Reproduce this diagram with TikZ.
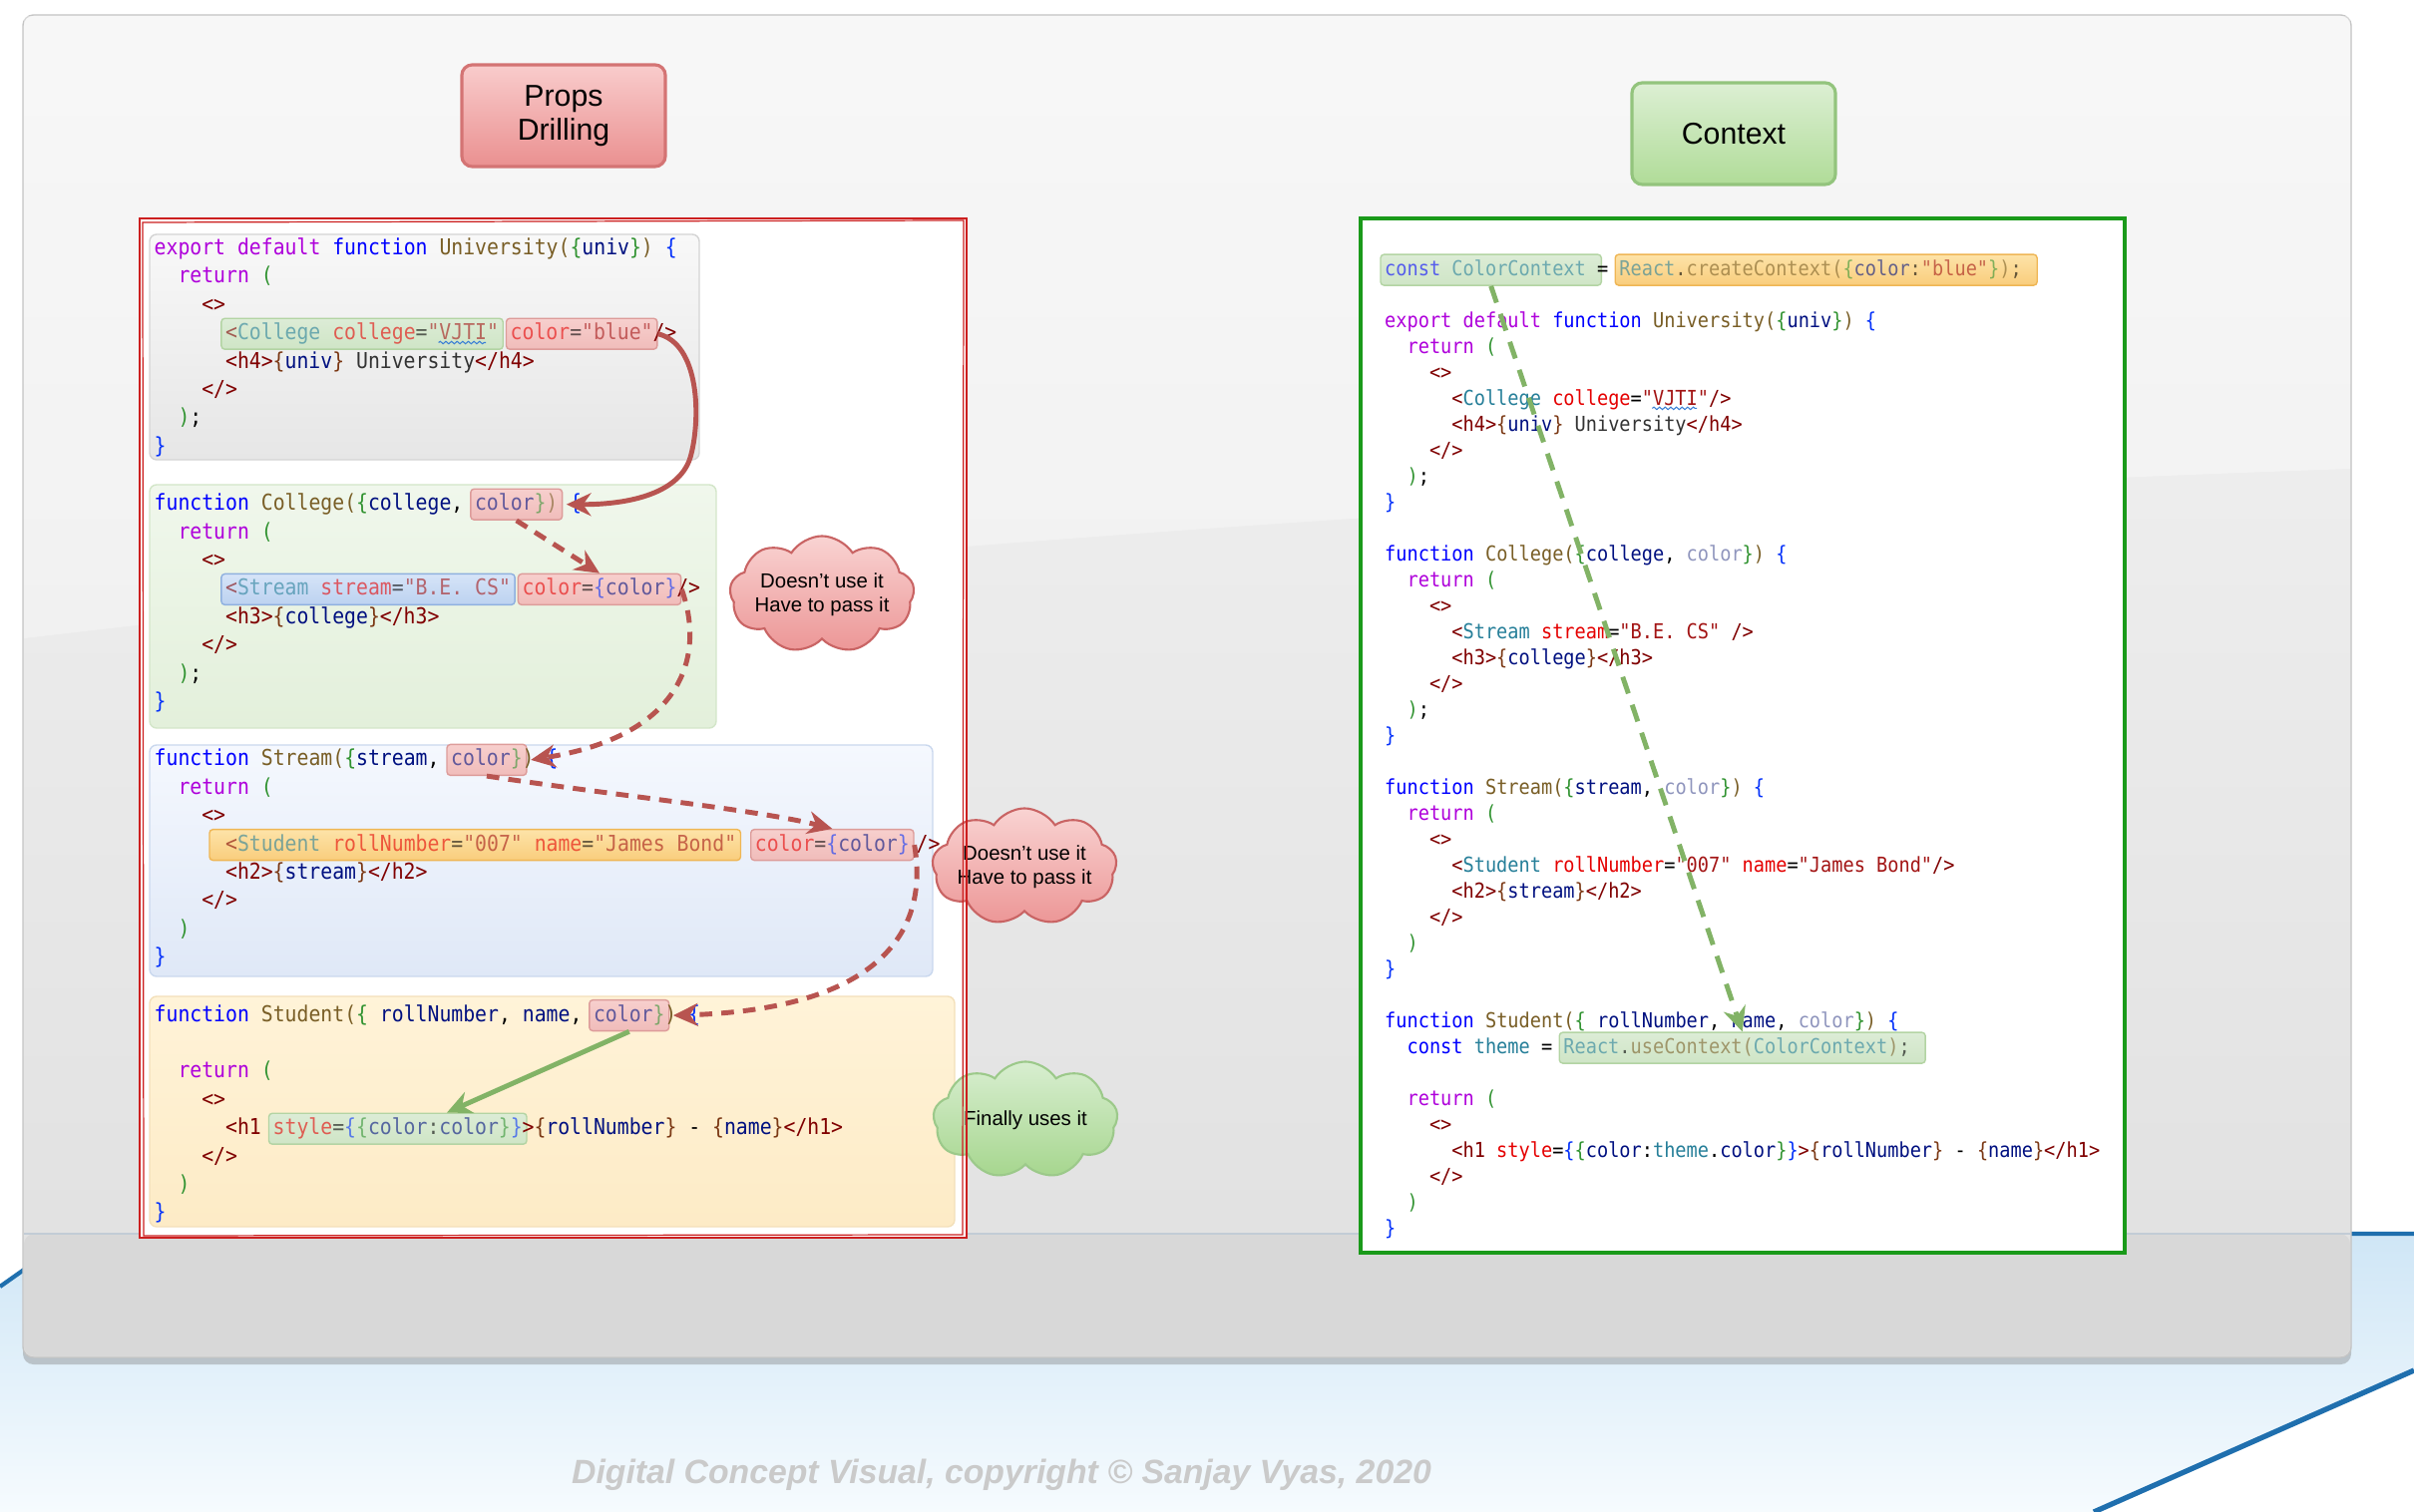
\documentclass[tikz,border=0pt]{standalone}
\usepackage{fontspec}
\usetikzlibrary{arrows.meta,shapes.symbols,shadows,decorations.pathmorphing}

\setsansfont{Liberation Sans}
\newfontfamily\codefont[FakeStretch=0.9,Ligatures=TeXOff]{DejaVu Sans Mono}
\newcommand\codeL{\codefont\fontsize{6.25pt}{7pt}\selectfont}
\newcommand\codeR{\codefont\fontsize{5.88pt}{7pt}\selectfont}

% editor colours
\definecolor{ckw}{HTML}{AF00DB}
\definecolor{cfn}{HTML}{0000FF}
\definecolor{cnm}{HTML}{795E26}
\definecolor{cvr}{HTML}{001080}
\definecolor{ctg}{HTML}{800000}
\definecolor{ccp}{HTML}{267F99}
\definecolor{cat}{HTML}{E50000}
\definecolor{cst}{HTML}{A31515}
\definecolor{cba}{HTML}{0431FA}
\definecolor{cbb}{HTML}{319331}
\definecolor{cbc}{HTML}{7B3814}
\definecolor{ctx}{HTML}{333333}
\definecolor{cdim}{HTML}{8F95BD}
\newcommand\cKw[1]{\textcolor{ckw}{#1}}
\newcommand\cFn[1]{\textcolor{cfn}{#1}}
\newcommand\cNm[1]{\textcolor{cnm}{#1}}
\newcommand\cVr[1]{\textcolor{cvr}{#1}}
\newcommand\cTg[1]{\textcolor{ctg}{#1}}
\newcommand\cCp[1]{\textcolor{ccp}{#1}}
\newcommand\cAt[1]{\textcolor{cat}{#1}}
\newcommand\cSt[1]{\textcolor{cst}{#1}}
\newcommand\cBa[1]{\textcolor{cba}{#1}}
\newcommand\cBb[1]{\textcolor{cbb}{#1}}
\newcommand\cBc[1]{\textcolor{cbc}{#1}}
\newcommand\cTx[1]{\textcolor{ctx}{#1}}
\newcommand\cDim[1]{\textcolor{cdim}{#1}}

% diagram colours
\definecolor{redline}{HTML}{B85450}
\definecolor{greenline}{HTML}{82B366}
\definecolor{stageblue}{HTML}{1F6FAE}
\definecolor{stagetop}{HTML}{CFE6F6}
\definecolor{stagebot}{HTML}{F6FBFE}
\definecolor{panelline}{HTML}{C4C4C4}
\definecolor{paneltop}{HTML}{F4F4F4}
\definecolor{panelbot}{HTML}{E0E0E0}
\definecolor{floorfill}{HTML}{D8D8D8}
\definecolor{floorline}{HTML}{C2CCD6}
\definecolor{grayline}{HTML}{D4D4D4}
\definecolor{graytop}{HTML}{F8F8F8}
\definecolor{graybot}{HTML}{E6E6E6}
\definecolor{mintline}{HTML}{D3E6C9}
\definecolor{minttop}{HTML}{F0F7EC}
\definecolor{mintbot}{HTML}{E3F0DB}
\definecolor{skyline}{HTML}{CAD8EE}
\definecolor{skytop}{HTML}{F5F8FE}
\definecolor{skybot}{HTML}{DFE8F7}
\definecolor{sandline}{HTML}{F3E0BA}
\definecolor{sandtop}{HTML}{FFF3D8}
\definecolor{sandbot}{HTML}{FDEBC6}
\definecolor{hlgtop}{HTML}{DCECD6}
\definecolor{hlgbot}{HTML}{CFE5C6}
\definecolor{hlgline}{HTML}{B3D4A3}
\definecolor{hlrtop}{HTML}{F7CFCD}
\definecolor{hlrbot}{HTML}{F0BCBA}
\definecolor{hlrline}{HTML}{DD9C9A}
\definecolor{hlbtop}{HTML}{D6E4F8}
\definecolor{hlbbot}{HTML}{BCD2F0}
\definecolor{hlbline}{HTML}{8FB0DF}
\definecolor{hlotop}{HTML}{FDE3A8}
\definecolor{hlobot}{HTML}{F9CD7C}
\definecolor{hloline}{HTML}{EFB655}
\definecolor{trline}{HTML}{D47474}
\definecolor{trtop}{HTML}{F9CCCC}
\definecolor{trbot}{HTML}{EA9090}
\definecolor{tgline}{HTML}{93C47D}
\definecolor{tgtop}{HTML}{DCEFD3}
\definecolor{tgbot}{HTML}{B0DC98}
\definecolor{crline}{HTML}{C96464}
\definecolor{crtop}{HTML}{F9D3D2}
\definecolor{crbot}{HTML}{EC9696}
\definecolor{cgline}{HTML}{9CC98A}
\definecolor{cgtop}{HTML}{D8EED0}
\definecolor{cgbot}{HTML}{A6D68E}
\definecolor{squigblue}{HTML}{3A7FD5}
\definecolor{propsframe}{HTML}{CC1F1F}
\definecolor{contextframe}{HTML}{1A9A1A}
\definecolor{wmgray}{HTML}{CACACA}

% code grid (pixels): left start, char width, right start, char width
\newcommand\xL{154}
\newcommand\cwL{11.9}
\newcommand\xR{1387.5}
\newcommand\cwR{11.2}

\tikzset{
  codeL/.style={font=\codeL, anchor=base west, inner sep=0pt},
  codeR/.style={font=\codeR, anchor=base west, inner sep=0pt},
  hl/.style={anchor=base west, inner xsep=1.2pt, inner ysep=1.3pt, text height=4.8pt, text depth=1.4pt,
    rounded corners=1pt, line width=0.4pt, text opacity=0.6},
  hlgreen/.style={hl, top color=hlgtop, bottom color=hlgbot, draw=hlgline},
  hlred/.style={hl, top color=hlrtop, bottom color=hlrbot, draw=hlrline},
  hlblue/.style={hl, top color=hlbtop, bottom color=hlbbot, draw=hlbline},
  hlorange/.style={hl, top color=hlotop, bottom color=hlobot, draw=hloline},
  titlebox/.style={font=\sffamily\fontsize{8.6pt}{9.8pt}\selectfont, align=center, minimum width=2.04cm,
    minimum height=1.02cm, rounded corners=3pt, line width=0.9pt},
  titlered/.style={titlebox, draw=trline, top color=trtop, bottom color=trbot},
  titlegreen/.style={titlebox, draw=tgline, top color=tgtop, bottom color=tgbot},
  cloudbox/.style={cloud, cloud puffs=9, cloud puff arc=115, cloud ignores aspect, minimum width=1.85cm,
    minimum height=1.17cm, inner sep=0pt, line width=0.6pt},
  cloudred/.style={cloudbox, draw=crline, top color=crtop, bottom color=crbot},
  cloudgreen/.style={cloudbox, draw=cgline, top color=cgtop, bottom color=cgbot},
  cloudtxt/.style={font=\sffamily\fontsize{5.8pt}{6.7pt}\selectfont, align=center, inner sep=0pt},
  flowR/.style={draw=redline, line width=1.4pt, -{Stealth[length=7pt,width=6.5pt]}},
  flowRd/.style={flowR, dash pattern=on 3.6pt off 2.6pt},
  flowG/.style={draw=greenline, line width=1.4pt, -{Stealth[length=7pt,width=6.5pt]}},
  flowGd/.style={flowG, dash pattern=on 5pt off 3.4pt},
  squig/.style={draw=squigblue, line width=0.3pt, decorate, decoration={snake, amplitude=0.35pt, segment length=1.6pt}}
}

\begin{document}
\begin{tikzpicture}[x=0.01cm, y=-0.01cm]
  \useasboundingbox (0,0) rectangle (2420,1516);

  % stage behind the panel
  \shade[top color=stagetop, bottom color=stagebot] (0,1290) -- (75,1237) -- (2420,1237) -- (2420,1374) -- (2099,1516) -- (0,1516) -- cycle;
  \draw[stageblue, line width=1.2pt] (0,1290) -- (75,1237) -- (2420,1237);
  \draw[stageblue, line width=1.5pt] (2099,1516) -- (2420,1374);

  % panel
  \path[rounded corners=3pt, draw=panelline, top color=paneltop, bottom color=panelbot,
    drop shadow={opacity=0.4, shadow xshift=0pt, shadow yshift=-2pt}] (23,15) rectangle (2357,1361);
  \fill[white, opacity=0.35] (24,16) -- (2356,16) -- (2356,470) .. controls (1500,500) and (700,560) .. (24,640) -- cycle;
  \fill[floorfill, rounded corners=3pt] (24,1237) rectangle (2356,1360);
  \draw[floorline, line width=0.6pt] (24,1237) -- (2356,1237);

  % titles
  \node[titlered] (props) at (565,116) {Props\\Drilling};
  \node[titlegreen] (context) at (1738,134) {Context};

  % frames
  \fill[white] (140,219) rectangle (969,1241);
  \fill[white] (1364,219) rectangle (2130,1256);

  % code blocks, left
  \path[rounded corners=2pt, draw=grayline, top color=graytop, bottom color=graybot] (150,235) rectangle (701,461);
  \path[rounded corners=2pt, draw=mintline, top color=minttop, bottom color=mintbot] (150,486) rectangle (718,730);
  \path[rounded corners=2pt, draw=skyline, top color=skytop, bottom color=skybot] (150,747) rectangle (935,979);
  \path[rounded corners=2pt, draw=sandline, top color=sandtop, bottom color=sandbot] (150,999) rectangle (957,1230);

  % University
  \node[codeL] (u0) at ({\xL},255.5) {\cKw{export} \cKw{default} \cFn{function} \cNm{University}\cNm{(}\cBb{\{}\cVr{univ}\cBb{\}}\cNm{)} \cBa{\{}};
  \node[codeL] (u1) at ({\xL+2*\cwL},283.9) {\cKw{return} \cBb{(}};
  \node[codeL] (u2) at ({\xL+4*\cwL},312.3) {\cTg{<>}};
  \node[hlgreen, font=\codeL] (uniC) at ({\xL+6*\cwL-4.2},340.7) {\cTg{<}\cCp{College} \cAt{college}=\cSt{"VJTI"}};
  \node[hlred, font=\codeL] (uniP) at ({\xL+30*\cwL-4.2},340.7) {\cAt{color}=\cSt{"blue"}};
  \node[codeL] (u3) at ({\xL+42*\cwL},340.7) {\cTg{/>}};
  \node[codeL] (u4) at ({\xL+6*\cwL},369.1) {\cTg{<h4>}\cBc{\{}\cVr{univ}\cBc{\}} \cTx{University}\cTg{</h4>}};
  \node[codeL] (u5) at ({\xL+4*\cwL},397.5) {\cTg{</>}};
  \node[codeL] (u6) at ({\xL+2*\cwL},425.9) {\cBb{)};};
  \node[codeL] (u7) at ({\xL},454.3) {\cBa{\}}};
  \draw[squig] ({\xL+24*\cwL},343.5) -- ({\xL+28*\cwL},343.5);

  % College
  \node[codeL] (c0) at ({\xL},511.7) {\cFn{function} \cNm{College}\cNm{(}\cBb{\{}\cVr{college},};
  \node[hlred, font=\codeL] (colP) at ({\xL+27*\cwL-4.2},511.7) {\cVr{color}\cBb{\}}\cNm{)}};
  \node[codeL] (c1) at ({\xL+35*\cwL},511.7) {\cBa{\{}};
  \node[codeL] (c2) at ({\xL+2*\cwL},540.1) {\cKw{return} \cBb{(}};
  \node[codeL] (c3) at ({\xL+4*\cwL},568.5) {\cTg{<>}};
  \node[hlblue, font=\codeL] (colS) at ({\xL+6*\cwL-4.2},596.9) {\cTg{<}\cCp{Stream} \cAt{stream}=\cSt{"B.E. CS"}};
  \node[hlred, font=\codeL] (colC) at ({\xL+31*\cwL-4.2},596.9) {\cAt{color}=\cBa{\{}\cVr{color}\cBa{\}}};
  \node[codeL] (c4) at ({\xL+44*\cwL},596.9) {\cTg{/>}};
  \node[codeL] (c5) at ({\xL+6*\cwL},625.3) {\cTg{<h3>}\cBc{\{}\cVr{college}\cBc{\}}\cTg{</h3>}};
  \node[codeL] (c6) at ({\xL+4*\cwL},653.7) {\cTg{</>}};
  \node[codeL] (c7) at ({\xL+2*\cwL},682.1) {\cBb{)};};
  \node[codeL] (c8) at ({\xL},710.5) {\cBa{\}}};

  % Stream
  \node[codeL] (s0) at ({\xL},767.9) {\cFn{function} \cNm{Stream}\cNm{(}\cBb{\{}\cVr{stream},};
  \node[hlred, font=\codeL] (strP) at ({\xL+25*\cwL-4.2},767.9) {\cVr{color}\cBb{\}}};
  \node[codeL] (s1) at ({\xL+31*\cwL},767.9) {\cNm{)} \cBa{\{}};
  \node[codeL] (s2) at ({\xL+2*\cwL},796.3) {\cKw{return} \cBb{(}};
  \node[codeL] (s3) at ({\xL+4*\cwL},824.7) {\cTg{<>}};
  \node[hlorange, font=\codeL] (strS) at ({\xL+5*\cwL-4.2},853.1) {\hphantom{x}\cTg{<}\cCp{Student} \cAt{rollNumber}=\cSt{"007"} \cAt{name}=\cSt{"James Bond"}};
  \node[hlred, font=\codeL] (stuC) at (752,853.1) {\cAt{color}=\cBa{\{}\cVr{color}\cBa{\}}};
  \node[codeL] (s4) at (918,853.1) {\cTg{/>}};
  \node[codeL] (s5) at ({\xL+6*\cwL},881.5) {\cTg{<h2>}\cBc{\{}\cVr{stream}\cBc{\}}\cTg{</h2>}};
  \node[codeL] (s6) at ({\xL+4*\cwL},909.9) {\cTg{</>}};
  \node[codeL] (s7) at ({\xL+2*\cwL},938.3) {\cBb{)}};
  \node[codeL] (s8) at ({\xL},966.7) {\cBa{\}}};

  % Student
  \node[codeL] (t0) at ({\xL},1024.1) {\cFn{function} \cNm{Student}\cNm{(}\cBb{\{} \cVr{rollNumber}, \cVr{name},};
  \node[hlred, font=\codeL] (stdP) at ({\xL+37*\cwL-4.2},1024.1) {\cVr{color}\cBb{\}}};
  \node[codeL] (t1) at ({\xL+43*\cwL},1024.1) {\cNm{)} \cBa{\{}};
  \node[codeL] (t2) at ({\xL+2*\cwL},1080.9) {\cKw{return} \cBb{(}};
  \node[codeL] (t3) at ({\xL+4*\cwL},1109.3) {\cTg{<>}};
  \node[codeL] (t4) at ({\xL+6*\cwL},1137.7) {\cTg{<h1}};
  \node[hlgreen, font=\codeL] (stlP) at ({\xL+10*\cwL-4.2},1137.7) {\cAt{style}=\cBa{\{}\cBb{\{}\cVr{color}:\cVr{color}\cBb{\}}\cBa{\}}};
  \node[codeL] (t5) at ({\xL+31*\cwL},1137.7) {\cTg{>}\cBc{\{}\cVr{rollNumber}\cBc{\}} - \cBc{\{}\cVr{name}\cBc{\}}\cTg{</h1>}};
  \node[codeL] (t6) at ({\xL+4*\cwL},1166.1) {\cTg{</>}};
  \node[codeL] (t7) at ({\xL+2*\cwL},1194.5) {\cBb{)}};
  \node[codeL] (t8) at ({\xL},1222.9) {\cBa{\}}};

  % right side, context
  \node[hlgreen, font=\codeR] (ctxN) at ({\xR-4.2},276.6) {\cFn{const} \cCp{ColorContext}\hphantom{x}};
  \node[codeR] (r0) at ({\xR+19*\cwR},276.6) {=};
  \node[hlorange, font=\codeR] (ctxC) at ({\xR+21*\cwR-4.2},276.6) {\cCp{React}.\cNm{createContext}\cNm{(}\cBb{\{}\cVr{color}:\cSt{"blue"}\cBb{\}}\cNm{)};\hphantom{x}};
  \node[codeR] (r2) at ({\xR},328.6) {\cKw{export} \cKw{default} \cFn{function} \cNm{University}\cNm{(}\cBb{\{}\cVr{univ}\cBb{\}}\cNm{)} \cBa{\{}};
  \node[codeR] (r3) at ({\xR+2*\cwR},354.6) {\cKw{return} \cBb{(}};
  \node[codeR] (r4) at ({\xR+4*\cwR},380.6) {\cTg{<>}};
  \node[codeR] (r5) at ({\xR+6*\cwR},406.6) {\cTg{<}\cCp{College} \cAt{college}=\cSt{"VJTI"}\cTg{/>}};
  \draw[squig] ({\xR+24*\cwR},409.4) -- ({\xR+28*\cwR},409.4);
  \node[codeR] (r6) at ({\xR+6*\cwR},432.6) {\cTg{<h4>}\cBc{\{}\cVr{univ}\cBc{\}} \cTx{University}\cTg{</h4>}};
  \node[codeR] (r7) at ({\xR+4*\cwR},458.6) {\cTg{</>}};
  \node[codeR] (r8) at ({\xR+2*\cwR},484.6) {\cBb{)};};
  \node[codeR] (r9) at ({\xR},510.6) {\cBa{\}}};
  \node[codeR] (r11) at ({\xR},562.6) {\cFn{function} \cNm{College}\cNm{(}\cBb{\{}\cVr{college}, \cDim{color}\cBb{\}}\cNm{)} \cBa{\{}};
  \node[codeR] (r12) at ({\xR+2*\cwR},588.6) {\cKw{return} \cBb{(}};
  \node[codeR] (r13) at ({\xR+4*\cwR},614.6) {\cTg{<>}};
  \node[codeR] (r14) at ({\xR+6*\cwR},640.6) {\cTg{<}\cCp{Stream} \cAt{stream}=\cSt{"B.E. CS"} \cTg{/>}};
  \node[codeR] (r15) at ({\xR+6*\cwR},666.6) {\cTg{<h3>}\cBc{\{}\cVr{college}\cBc{\}}\cTg{</h3>}};
  \node[codeR] (r16) at ({\xR+4*\cwR},692.6) {\cTg{</>}};
  \node[codeR] (r17) at ({\xR+2*\cwR},718.6) {\cBb{)};};
  \node[codeR] (r18) at ({\xR},744.6) {\cBa{\}}};
  \node[codeR] (r20) at ({\xR},796.6) {\cFn{function} \cNm{Stream}\cNm{(}\cBb{\{}\cVr{stream}, \cDim{color}\cBb{\}}\cNm{)} \cBa{\{}};
  \node[codeR] (r21) at ({\xR+2*\cwR},822.6) {\cKw{return} \cBb{(}};
  \node[codeR] (r22) at ({\xR+4*\cwR},848.6) {\cTg{<>}};
  \node[codeR] (r23) at ({\xR+6*\cwR},874.6) {\cTg{<}\cCp{Student} \cAt{rollNumber}=\cSt{"007"} \cAt{name}=\cSt{"James Bond"}\cTg{/>}};
  \node[codeR] (r24) at ({\xR+6*\cwR},900.6) {\cTg{<h2>}\cBc{\{}\cVr{stream}\cBc{\}}\cTg{</h2>}};
  \node[codeR] (r25) at ({\xR+4*\cwR},926.6) {\cTg{</>}};
  \node[codeR] (r26) at ({\xR+2*\cwR},952.6) {\cBb{)}};
  \node[codeR] (r27) at ({\xR},978.6) {\cBa{\}}};
  \node[codeR] (r29) at ({\xR},1030.6) {\cFn{function} \cNm{Student}\cNm{(}\cBb{\{} \cVr{rollNumber}, \cVr{name}, \cDim{color}\cBb{\}}\cNm{)} \cBa{\{}};
  \node[codeR] (r30) at ({\xR+2*\cwR},1056.6) {\cFn{const} \cCp{theme} =};
  \node[hlgreen, font=\codeR] (ctxU) at ({\xR+16*\cwR-4.2},1056.6) {\cCp{React}.\cNm{useContext}\cNm{(}\cCp{ColorContext}\cNm{)};\hphantom{x}};
  \node[codeR] (r32) at ({\xR+2*\cwR},1108.6) {\cKw{return} \cBb{(}};
  \node[codeR] (r33) at ({\xR+4*\cwR},1134.6) {\cTg{<>}};
  \node[codeR] (r34) at ({\xR+6*\cwR},1160.6) {\cTg{<h1} \cAt{style}=\cBa{\{}\cBb{\{}\cVr{color}:\cCp{theme}.\cVr{color}\cBb{\}}\cBa{\}}\cTg{>}\cBc{\{}\cVr{rollNumber}\cBc{\}} - \cBc{\{}\cVr{name}\cBc{\}}\cTg{</h1>}};
  \node[codeR] (r35) at ({\xR+4*\cwR},1186.6) {\cTg{</>}};
  \node[codeR] (r36) at ({\xR+2*\cwR},1212.6) {\cBb{)}};
  \node[codeR] (r37) at ({\xR},1238.6) {\cBa{\}}};

  % clouds
  \node[cloudred] (cl1) at (824,596) {};
  \node[cloudtxt] (cl1t) at (cl1) {Doesn't use it\\Have to pass it};
  \node[cloudred] (cl2) at (1027,869) {};
  \node[cloudtxt] (cl2t) at (cl2) {Doesn't use it\\Have to pass it};
  \node[cloudgreen] (cl3) at (1028,1123) {};
  \node[cloudtxt] (cl3t) at (cl3) {Finally uses it};

  % frame borders
  \draw[propsframe, line width=0.8pt] (140,219) rectangle (969,1241);
  \draw[propsframe, line width=0.35pt] (143,223) -- (966,221) -- (965,1238) -- (144,1239) -- cycle;
  \draw[contextframe, line width=1.1pt] (1364,219) rectangle (2130,1256);

  % prop passing
  \draw[flowR] (uniP.east) .. controls (702,345) and (702,420) .. (693,455) .. controls (684,495) and (630,506) .. ([xshift=1pt]colP.east);
  \draw[flowRd] (colP.south) -- (colC.north);
  \draw[flowRd] (colC.east) .. controls (708,660) and (682,738) .. ([xshift=1pt]strP.east);
  \draw[flowRd] (strP.south) .. controls (620,798) and (760,812) .. (stuC.north);
  \draw[flowRd] (stuC.east) .. controls (932,935) and (880,1012) .. ([xshift=1pt]stdP.east);
  \draw[flowG] (stdP.south) -- ([xshift=14pt]stlP.north);
  \draw[flowGd] (ctxN.south) -- (ctxU.north);

  % watermark
  \node[font=\sffamily\bfseries\itshape\fontsize{9.6pt}{11pt}\selectfont, text=wmgray] (wm) at (1004,1479) {Digital Concept Visual, copyright © Sanjay Vyas, 2020};
\end{tikzpicture}
\end{document}
